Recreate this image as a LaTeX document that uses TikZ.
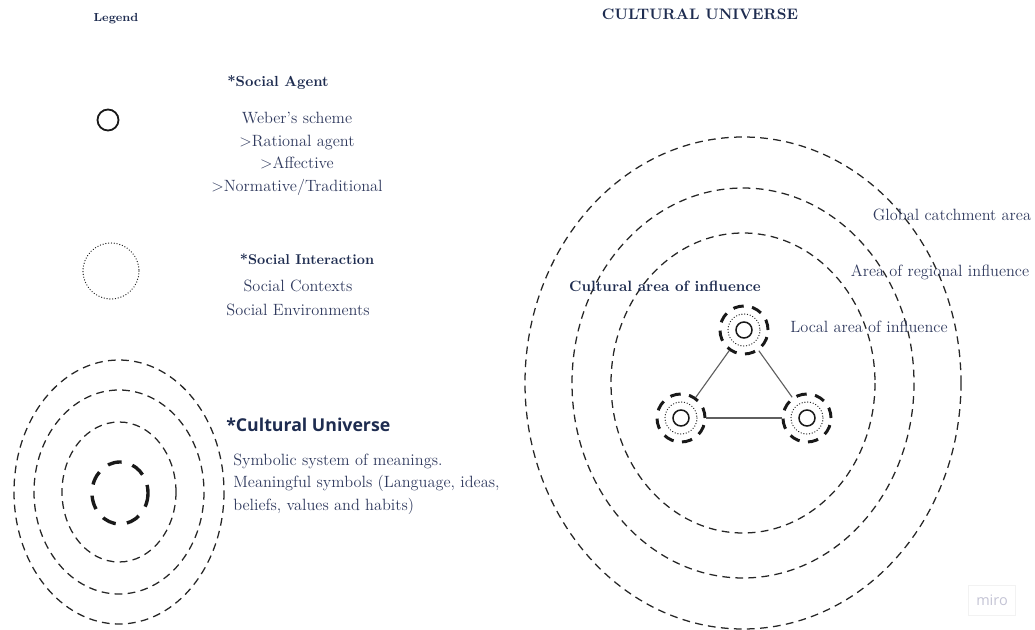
\documentclass[tikz,border=0pt]{standalone}
\usepackage{fontspec}
\newfontfamily\sansheading{Open Sans}
\definecolor{headnavy}{RGB}{30,44,80}
\definecolor{textslate}{RGB}{48,58,94}
\definecolor{linkgray}{RGB}{95,95,95}
\definecolor{mirogray}{RGB}{195,195,212}
\tikzset{
  ring/.style={draw=black!85, line width=0.9pt, dash pattern=on 5.5pt off 3.8pt},
  corering/.style={draw=black!90, line width=2.4pt, dash pattern=on 10pt off 8pt},
  agentcircle/.style={draw=black!90, line width=1.3pt},
  interactioncircle/.style={draw=black!85, line width=0.9pt, line cap=round, dash pattern=on 0.1pt off 1.9pt},
  culturenode/.style={circle, minimum size=1.2cm, inner sep=0pt, draw=black!90, line width=2.1pt, dash pattern=on 7.5pt off 6pt},
  link/.style={draw=linkgray, line width=0.8pt},
  heading/.style={text=headnavy, font=\bfseries\fontsize{10.4}{14}\selectfont, inner sep=0pt},
  bodytext/.style={text=textslate, font=\fontsize{11.6}{16}\selectfont, inner sep=0pt, align=center},
}
\begin{document}
\begin{tikzpicture}[x=0.025cm,y=-0.025cm]
\useasboundingbox (0,0) rectangle (1035,630);
% legend
\node[heading, font=\bfseries\fontsize{8.3}{11}\selectfont] (legend) at (116,19) {Legend};
\draw[agentcircle] (108,120) circle (10.5);
\node[heading] (agenthead) at (278,82) {*Social Agent};
\node[bodytext] (agenttext) at (297,154) {Weber's scheme\\>Rational agent\\>Affective\\>Normative/Traditional};
\draw[interactioncircle] (111,271) circle (28);
\node[heading, font=\bfseries\fontsize{10.1}{14}\selectfont] (interhead) at (307,259) {*Social Interaction};
\node[bodytext, font=\fontsize{11.6}{17}\selectfont] (intertext) at (298,298) {Social Contexts\\Social Environments};
\draw[ring] (119,492) ellipse [x radius=105, y radius=132];
\draw[ring] (119,492) ellipse [x radius=85, y radius=102];
\draw[ring] (119,492) ellipse [x radius=57, y radius=70];
\draw[corering] (120,493) ellipse [x radius=28, y radius=31];
\node[heading, anchor=west, font=\sansheading\bfseries\fontsize{12.6}{15}\selectfont] (culthead) at (226,425) {*Cultural Universe};
\node[bodytext, anchor=west, align=left] (culttext) at (233,484) {Symbolic system of meanings.\\Meaningful symbols (Language, ideas,\\beliefs, values and habits)};
% cultural universe
\node[heading, font=\bfseries\fontsize{10.8}{14}\selectfont] (title) at (700,14) {CULTURAL UNIVERSE};
\draw[ring] (743,383) ellipse [x radius=218, y radius=246];
\draw[ring] (743,383) ellipse [x radius=171, y radius=195];
\draw[ring] (743,383) ellipse [x radius=132, y radius=150];
\node[heading, font=\bfseries\fontsize{10.6}{14}\selectfont] (cultarea) at (665,286) {Cultural area of influence};
\node[bodytext] (global) at (952,215) {Global catchment area};
\node[bodytext] (regional) at (940,272) {Area of regional influence};
\node[bodytext] (local) at (869,327) {Local area of influence};
\node[culturenode] (topagent) at (744,330) {};
\node[culturenode] (leftagent) at (681,418) {};
\node[culturenode] (rightagent) at (807,418) {};
\foreach \a in {topagent,leftagent,rightagent}{
  \draw[interactioncircle] (\a.center) circle (16);
  \draw[agentcircle, line width=1.1pt] (\a.center) circle (8);
}
\draw[link] (topagent) -- (leftagent);
\draw[link] (topagent) -- (rightagent);
\draw[link] (leftagent) -- (rightagent);
\node[draw=black!5, text=mirogray, font=\sansheading\fontsize{10.3}{12}\selectfont, minimum width=1.18cm, minimum height=0.75cm, inner sep=0pt] (miro) at (992,600) {miro};
\end{tikzpicture}
\end{document}
